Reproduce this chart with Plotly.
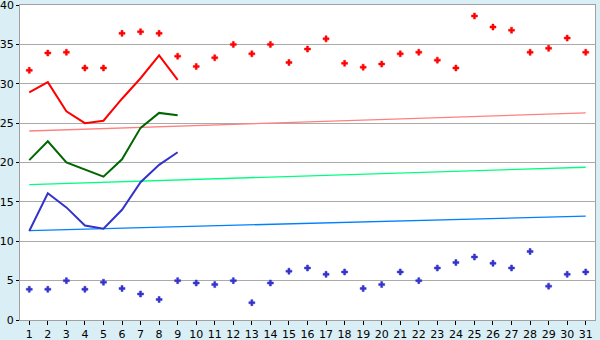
import plotly.graph_objects as go

days = list(range(1, 32))

red_points = [31.7, 33.9, 34.0, 32.0, 32.0, 36.4, 36.6, 36.4, 33.5, 32.2,
              33.3, 35.0, 33.8, 35.0, 32.7, 34.4, 35.7, 32.6, 32.1, 32.5,
              33.8, 34.0, 33.0, 32.0, 38.6, 37.2, 36.8, 34.0, 34.5, 35.8, 34.0]
blue_points = [3.9, 3.9, 5.0, 3.9, 4.8, 4.0, 3.3, 2.6, 5.0, 4.7,
               4.5, 5.0, 2.2, 4.7, 6.2, 6.6, 5.8, 6.1, 4.0, 4.5,
               6.1, 5.0, 6.6, 7.3, 8.0, 7.2, 6.6, 8.7, 4.3, 5.8, 6.1]

line_days = list(range(1, 10))
red_line = [28.9, 30.2, 26.5, 25.0, 25.3, 28.1, 30.7, 33.6, 30.5]
green_line = [20.3, 22.7, 20.0, 19.1, 18.2, 20.4, 24.4, 26.3, 26.0]
blue_line = [11.3, 16.1, 14.3, 12.0, 11.6, 14.0, 17.5, 19.7, 21.3]

trend_days = [1, 31]
pink_trend = [24.0, 26.3]
lgreen_trend = [17.2, 19.4]
lblue_trend = [11.35, 13.2]

y_ticks = [0, 5, 10, 15, 20, 25, 30, 35, 40]

fig = go.Figure()

for y, c in [(pink_trend, "#FF8080"), (lgreen_trend, "#00FF80"), (lblue_trend, "#0080FF")]:
    fig.add_trace(go.Scatter(x=trend_days, y=y, mode="lines",
                             line=dict(color=c, width=1.3), hoverinfo="skip"))

for y, c in [(red_line, "#FF0000"), (green_line, "#006600"), (blue_line, "#3333CC")]:
    fig.add_trace(go.Scatter(x=line_days, y=y, mode="lines",
                             line=dict(color=c, width=2)))

fig.add_trace(go.Scatter(x=days, y=red_points, mode="markers",
                         marker=dict(symbol="cross", size=5, color="#FF0000",
                                     line=dict(width=0.5, color="#FF0000"))))
fig.add_trace(go.Scatter(x=days, y=blue_points, mode="markers",
                         marker=dict(symbol="cross", size=5, color="#3333CC",
                                     line=dict(width=0.5, color="#3333CC"))))

# top tick label (Plotly drops it as it overflows the page top)
fig.add_annotation(x=0, xref="paper", y=y_ticks[-1], yref="y", text=str(y_ticks[-1]),
                   showarrow=False, xanchor="right", yanchor="middle", xshift=-4,
                   font=dict(family="DejaVu Sans, Verdana, sans-serif", size=11, color="#000000"))

fig.update_layout(
    width=600, height=340,
    margin=dict(l=20, r=5, t=5, b=20, autoexpand=False),
    paper_bgcolor="#D9EFF5",
    plot_bgcolor="#FFFFFF",
    showlegend=False,
    font=dict(family="DejaVu Sans, Verdana, sans-serif", size=11, color="#000000"),
    xaxis=dict(range=[0.5, 31.5], tickmode="array", tickvals=days,
               ticktext=[str(d) for d in days], automargin=False,
               showgrid=False, zeroline=False,
               showline=True, linecolor="#A0A0A0", linewidth=1, mirror=True,
               ticks="outside", ticklen=4, tickcolor="#000000"),
    yaxis=dict(range=[0, 40], tickmode="array", tickvals=y_ticks,
               automargin=False,
               showgrid=True, gridcolor="#AAAAAA", gridwidth=1, zeroline=False,
               showline=True, linecolor="#A0A0A0", linewidth=1, mirror=True,
               ticks="outside", ticklen=3, tickcolor="#000000"),
)

fig.write_html("out.html")
